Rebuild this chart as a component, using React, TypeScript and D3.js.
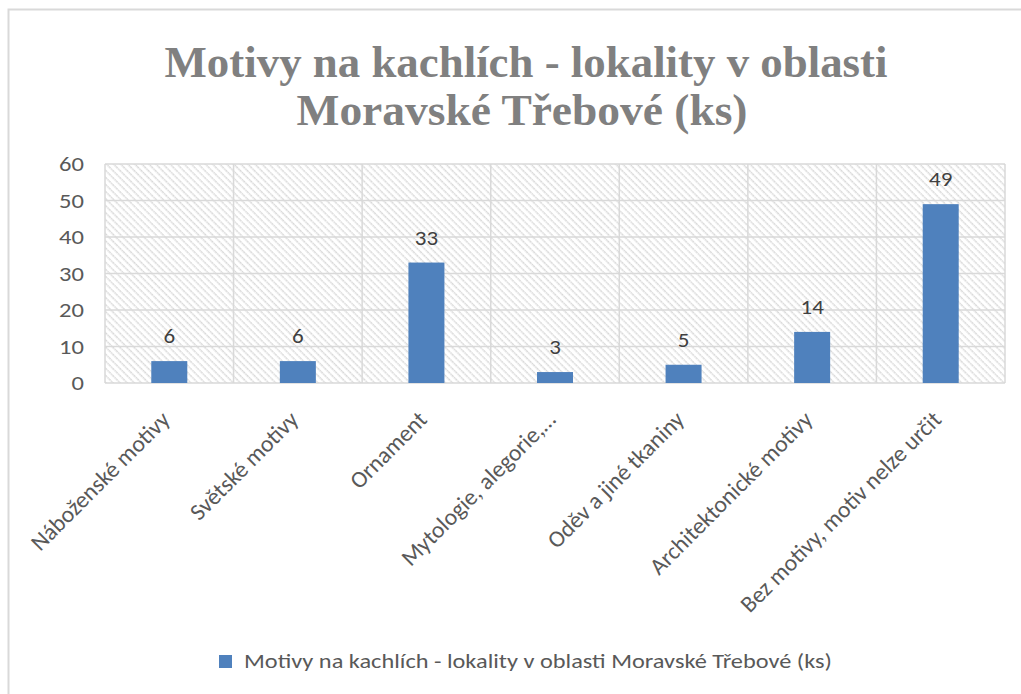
import React from "react";
import * as d3 from "d3";

const categories = [
  "Náboženské motivy",
  "Světské motivy",
  "Ornament",
  "Mytologie, alegorie,…",
  "Oděv a jiné tkaniny",
  "Architektonické motivy",
  "Bez motivy, motiv nelze určit",
];
const values = [6, 6, 33, 3, 5, 14, 49];
const yTicks = [0, 10, 20, 30, 40, 50, 60];
const titleLines = ["Motivy na kachlích - lokality v oblasti", "Moravské Třebové (ks)"];
const seriesName = "Motivy na kachlích - lokality v oblasti Moravské Třebové (ks)";

const W = 1021;
const H = 694;
const plot = { left: 105, right: 1005, top: 164, bottom: 383 };
const barColor = "#4f81bd";
const font = "Carlito, Lato, sans-serif";

export default function App() {
  const x = d3
    .scaleBand<string>()
    .domain(categories)
    .range([plot.left, plot.right])
    .paddingInner(0.72)
    .paddingOuter(0.36);
  const band = (plot.right - plot.left) / categories.length;
  const y = d3.scaleLinear().domain([0, 60]).range([plot.bottom, plot.top]);

  return (
    <svg
      width={W}
      height={H}
      style={{ position: "absolute", left: 0, top: 0, background: "white" }}
    >
      <defs>
        <pattern
          id="hatch"
          width={5}
          height={5}
          patternUnits="userSpaceOnUse"
          patternTransform="rotate(45)"
        >
          <rect width={5} height={5} fill="white" />
          <line x1={0} y1={0.75} x2={5} y2={0.75} stroke="#d9d9d9" strokeWidth={1.4} strokeDasharray="2 0.6" />
        </pattern>
      </defs>
      {/* chart frame, cropped on right and bottom */}
      <path d={`M8.5,${H} V9.5 H${W}`} fill="none" stroke="#d9d9d9" strokeWidth={2} />

      {/* title */}
      <g fill="#808080" fontFamily="'Liberation Serif', serif" fontWeight="bold" fontSize={44} textAnchor="middle">
        <text x={526} y={77} textLength={723} lengthAdjust="spacingAndGlyphs">
          {titleLines[0]}
        </text>
        <text x={522} y={125} textLength={451} lengthAdjust="spacingAndGlyphs">
          {titleLines[1]}
        </text>
      </g>

      {/* plot area */}
      <rect
        x={plot.left}
        y={plot.top}
        width={plot.right - plot.left}
        height={plot.bottom - plot.top}
        fill="url(#hatch)"
      />
      <g stroke="#d9d9d9" strokeWidth={1.5}>
        {yTicks.map((t) => (
          <line key={t} x1={plot.left} x2={plot.right} y1={y(t)} y2={y(t)} />
        ))}
        {d3.range(categories.length + 1).map((i) => (
          <line
            key={i}
            x1={plot.left + i * band}
            x2={plot.left + i * band}
            y1={plot.top}
            y2={plot.bottom}
          />
        ))}
      </g>

      {/* y tick labels */}
      <g fill="#595959" fontFamily={font} fontSize={21} textAnchor="end">
        {yTicks.map((t) => (
          <text key={t} transform={`translate(84,${y(t) + 7}) scale(1.17,1)`}>
            {t}
          </text>
        ))}
      </g>

      {/* bars */}
      {categories.map((c, i) => (
        <rect
          key={c}
          x={x(c)!}
          y={y(values[i])}
          width={x.bandwidth()}
          height={plot.bottom - y(values[i])}
          fill={barColor}
        />
      ))}

      {/* data labels */}
      <g fill="#404040" fontFamily={font} fontSize={19.5} textAnchor="middle">
        {categories.map((c, i) => (
          <text
            key={c}
            transform={`translate(${x(c)! + x.bandwidth() / 2},${y(values[i]) - 18}) scale(1.18,1)`}
          >
            {values[i]}
          </text>
        ))}
      </g>

      {/* category labels */}
      <g fill="#595959" fontFamily={font} fontSize={23.5} textAnchor="end">
        {categories.map((c) => {
          const cx = x(c)! + x.bandwidth() / 2 + 2;
          const cy = plot.bottom + 38;
          return (
            <text key={c} transform={`translate(${cx},${cy}) rotate(-45)`}>
              {c}
            </text>
          );
        })}
      </g>

      {/* legend */}
      <rect x={219} y={655} width={13} height={13} fill={barColor} />
      <text
        x={244}
        y={668}
        fill="#595959"
        fontFamily={font}
        fontSize={20}
        textLength={588}
        lengthAdjust="spacingAndGlyphs"
      >
        {seriesName}
      </text>
    </svg>
  );
}
